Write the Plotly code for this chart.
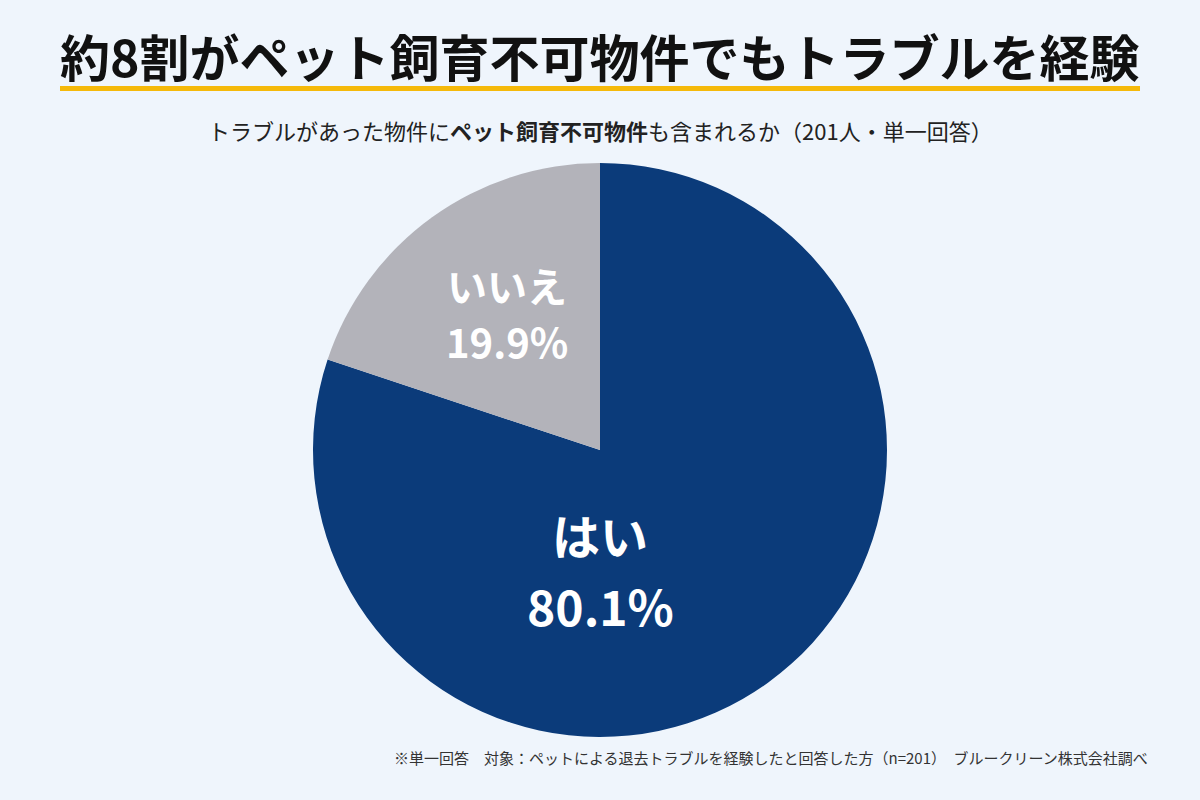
import plotly.graph_objects as go

# データ
labels = ["はい", "いいえ"]
values = [80.1, 19.9]
slice_colors = ["#0B3B7A", "#B3B3BA"]

title_text = "約8割がペット飼育不可物件でもトラブルを経験"
subtitle_text = "トラブルがあった物件に<b>ペット飼育不可物件</b>も含まれるか（201人・単一回答）"
note_text = "※単一回答　対象：ペットによる退去トラブルを経験したと回答した方（n=201）　ブルークリーン株式会社調べ"

FONT = "Noto Sans CJK JP"
W, H = 1200, 800

fig = go.Figure(go.Pie(
    labels=labels,
    values=values,
    marker=dict(colors=slice_colors, line=dict(width=0)),
    sort=False,
    direction="clockwise",
    rotation=0,
    textinfo="none",
    hoverinfo="label+percent",
    domain=dict(x=[313 / W, 887 / W], y=[1 - 737 / H, 1 - 163 / H]),
    showlegend=False,
))

# ラベル（スライス内）: (x, 名前のy, 割合のy, 文字サイズ) ピクセル
label_pos = [(600, 534, 605, 48), (507, 285, 341, 40)]
for lab, val, (px_, py_name, py_val, fs) in zip(labels, values, label_pos):
    fig.add_annotation(text=f"<b>{lab}</b>", x=px_ / W, y=1 - py_name / H, xref="paper", yref="paper",
                       showarrow=False, font=dict(family=FONT, size=fs, color="white"),
                       xanchor="center", yanchor="middle")
    fig.add_annotation(text=f"<b>{val:.1f}%</b>", x=px_ / W, y=1 - py_val / H, xref="paper", yref="paper",
                       showarrow=False, font=dict(family=FONT, size=fs, color="white"),
                       xanchor="center", yanchor="middle")

# タイトル
fig.add_annotation(text=f"<b>{title_text}</b>", x=0.5, y=1 - 55 / H, xref="paper", yref="paper",
                   showarrow=False, font=dict(family=FONT, size=50, color="#111111"),
                   xanchor="center", yanchor="middle")
fig.add_shape(type="rect", xref="paper", yref="paper",
              x0=60 / W, x1=1140 / W, y0=1 - 91 / H, y1=1 - 86 / H,
              fillcolor="#F5B90A", line=dict(width=0))

# サブタイトル
fig.add_annotation(text=subtitle_text, x=0.5, y=1 - 130 / H, xref="paper", yref="paper",
                   showarrow=False, font=dict(family=FONT, size=22, color="#222222"),
                   xanchor="center", yanchor="middle")

# 注記
fig.add_annotation(text=note_text, x=1150 / W, y=1 - 757 / H, xref="paper", yref="paper",
                   showarrow=False, font=dict(family=FONT, size=15, color="#333333"),
                   xanchor="right", yanchor="middle")

fig.update_layout(
    width=W, height=H,
    margin=dict(l=0, r=0, t=0, b=0),
    paper_bgcolor="#EFF5FC",
    plot_bgcolor="#EFF5FC",
)

fig.write_html("out.html", config={"displayModeBar": False},
               post_script="document.body.style.margin='0';")
